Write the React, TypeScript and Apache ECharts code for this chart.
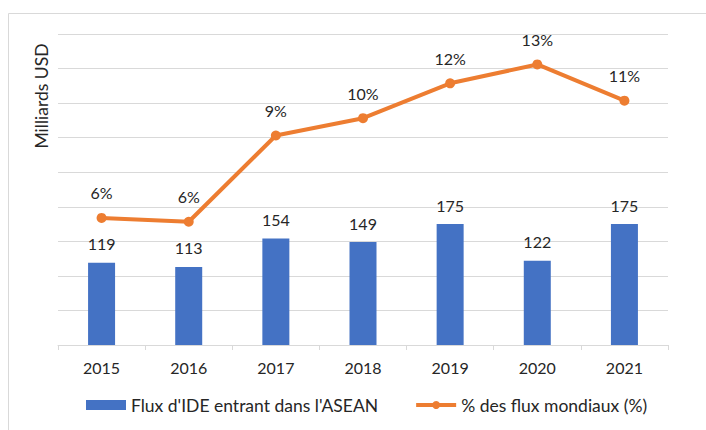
import React, { useEffect, useRef } from "react";
import * as echarts from "echarts";

const years = ["2015", "2016", "2017", "2018", "2019", "2020", "2021"];
const fdiFlows = [119, 113, 154, 149, 175, 122, 175];
const worldShare = [5.72, 5.55, 9.43, 10.21, 11.78, 12.63, 11.0];
const barName = "Flux d'IDE entrant dans l'ASEAN";
const lineName = "% des flux mondiaux (%)";
const yAxisTitle = "Milliards USD";

const FONT = "Lato, 'Liberation Sans', sans-serif";
const TEXT = "#262626";

export default function App() {
  const ref = useRef<HTMLDivElement>(null);
  useEffect(() => {
    if (!ref.current) return;
    const chart = echarts.init(ref.current, undefined, { renderer: "svg" });
    chart.setOption({
      animation: false,
      backgroundColor: "#ffffff",
      textStyle: { fontFamily: FONT, color: TEXT },
      grid: { left: 58, right: 38, top: 34, bottom: 85 },
      graphic: [
        {
          type: "rect",
          shape: { x: 8.5, y: 13.5, width: 720, height: 440 },
          style: { fill: "none", stroke: "#d9d9d9", lineWidth: 1 },
          silent: true,
        },
        {
          type: "text",
          x: 41,
          y: 96,
          rotation: Math.PI / 2,
          style: {
            text: yAxisTitle,
            fontFamily: FONT,
            fontSize: 17.5,
            fill: TEXT,
            align: "center",
            verticalAlign: "middle",
          },
        },
      ],
      legend: {
        bottom: 11,
        left: 81,
        itemWidth: 40,
        itemHeight: 10,
        itemGap: 36,
        textStyle: { fontFamily: FONT, fontSize: 17.5, color: TEXT },
        data: [
          { name: barName, icon: "rect" },
          { name: lineName, lineStyle: { width: 4 } },
        ],
      },
      xAxis: {
        type: "category",
        data: years,
        axisLine: { lineStyle: { color: "#d9d9d9", width: 1 } },
        axisTick: { show: true, length: 5, lineStyle: { color: "#d9d9d9" } },
        axisLabel: { fontFamily: FONT, fontSize: 16, color: TEXT, margin: 14 },
      },
      yAxis: [
        {
          type: "value",
          min: 0,
          max: 450,
          interval: 50,
          axisLabel: { show: false },
          axisLine: { show: false },
          axisTick: { show: false },
          splitLine: { lineStyle: { color: "#d9d9d9", width: 1 } },
        },
        {
          type: "value",
          min: 0,
          max: 14,
          show: false,
          splitLine: { show: false },
        },
      ],
      series: [
        {
          name: barName,
          type: "bar",
          data: fdiFlows,
          barWidth: 27,
          itemStyle: { color: "#4472C4" },
          label: {
            show: true,
            position: "top",
            distance: 11,
            fontFamily: FONT,
            fontSize: 16,
            color: TEXT,
          },
        },
        {
          name: lineName,
          type: "line",
          yAxisIndex: 1,
          data: worldShare,
          symbol: "circle",
          symbolSize: 10,
          lineStyle: { color: "#ED7D31", width: 4 },
          itemStyle: { color: "#ED7D31" },
          label: {
            show: true,
            position: "top",
            distance: 12,
            fontFamily: FONT,
            fontSize: 16,
            color: TEXT,
            formatter: (p: any) => Math.round(p.value) + "%",
          },
        },
      ],
    });
    return () => chart.dispose();
  }, []);
  return (
    <div
      ref={ref}
      style={{ position: "fixed", left: 0, top: 0, width: 706, height: 430 }}
    />
  );
}
